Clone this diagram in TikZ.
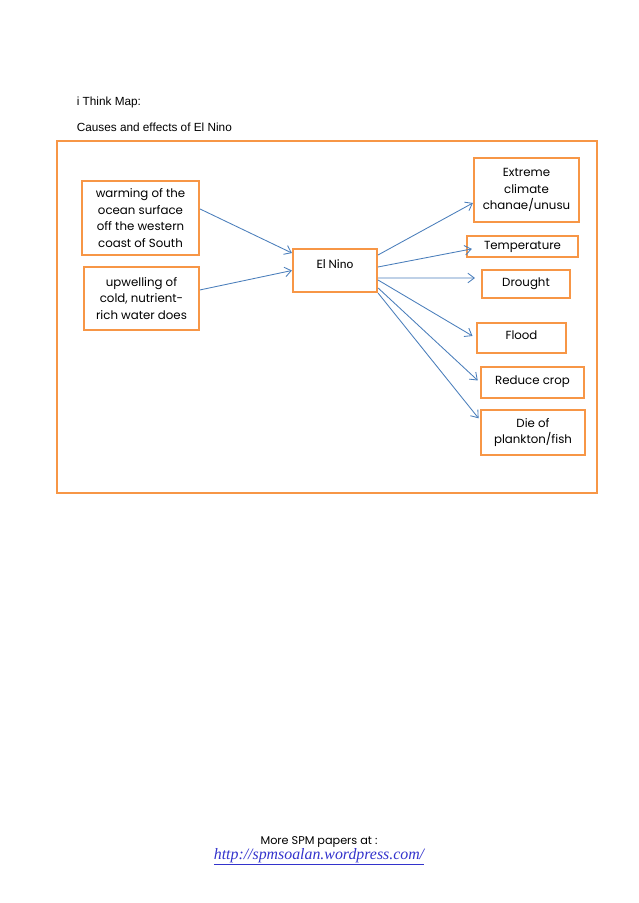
\documentclass[tikz,border=0pt]{standalone}
\usepackage{fontspec}
\setmainfont{Liberation Sans}
\newfontfamily\gothic{Poppins}
\newfontfamily\calib{Carlito}
\newfontfamily\corsiva{Liberation Serif}
\usetikzlibrary{arrows.meta}
\definecolor{boxorange}{HTML}{F79646}
\definecolor{linkblue}{HTML}{4A7EBB}
\definecolor{urlblue}{HTML}{3333CC}
\tikzset{
  mapbox/.style={draw=boxorange, line width=2pt, inner sep=0pt, align=center,
    font=\gothic\fontsize{11}{15.4}\selectfont},
  link/.style={draw=linkblue, line width=0.8pt, -{Straight Barb[length=6pt,width=9pt]}},
}
\begin{document}
\begin{tikzpicture}[x=0.9333pt,y=-0.9333pt]
  \useasboundingbox (0,0) rectangle (638,903);
  % heading
  \node[anchor=west, font=\fontsize{11}{13}\selectfont] (title) at (73,102) {i Think Map:};
  \node[anchor=west, font=\fontsize{11}{13}\selectfont] (subtitle) at (73,127) {Causes and effects of El Nino};
  % frame
  \draw[boxorange, line width=2pt] (57,141) rectangle (597,493);
  % causes
  \node[mapbox, minimum width=109.2pt, minimum height=69.1pt] (warm) at (140.5,218)
    {warming of the\\ocean surface\\off the western\\coast of South};
  \node[mapbox, minimum width=107.3pt, minimum height=58.8pt] (upwell) at (141.5,298.5)
    {upwelling of\\cold, nutrient-\\rich water does};
  % centre
  \node[mapbox, minimum width=78.4pt, minimum height=40.1pt, font=\calib\fontsize{12}{14}\selectfont,
    text height=8.6pt, text depth=11.6pt] (elnino) at (335,270.5) {El Nino};
  % effects
  \node[mapbox, minimum width=98pt, minimum height=59.7pt] (extreme) at (526.5,190)
    {Extreme\\climate\\chanae/unusu};
  \node[mapbox, minimum width=103.6pt, minimum height=19.6pt] (temp) at (522.5,246.5) {Temperature};
  \node[mapbox, minimum width=82.1pt, minimum height=26.1pt] (drought) at (526,284) {Drought};
  \node[mapbox, minimum width=83.1pt, minimum height=28pt, text depth=5.5pt] (flood) at (521.5,338) {Flood};
  \node[mapbox, minimum width=96.1pt, minimum height=28.9pt, text depth=5pt] (crop) at (532.5,382.5) {Reduce crop};
  \node[mapbox, minimum width=97.1pt, minimum height=42pt] (plankton) at (533,432.5)
    {Die of\\plankton/fish};
  % connectors
  \draw[link] ([yshift=8.4pt]warm.east) -- ([yshift=16.3pt]elnino.west);
  \draw[link] ([yshift=8pt]upwell.east) -- (elnino.west);
  \draw[link] ([yshift=14.5pt]elnino.east) -- ([yshift=-12.1pt]extreme.west);
  \draw[link, shorten >=-5.6pt] ([yshift=3.3pt]elnino.east) -- ([yshift=-3.3pt]temp.west);
  \draw[link, shorten >=5.6pt] ([yshift=-7pt]elnino.east) -- ([yshift=5.6pt]drought.west);
  \draw[link, shorten >=3.7pt] ([yshift=-8.9pt]elnino.east) -- (flood.west);
  \draw[link, shorten >=2.8pt] ([yshift=-16.3pt]elnino.east) -- (crop.west);
  \draw[link, shorten >=2pt] (elnino.south east) -- ([yshift=11.7pt]plankton.west);
  % footer
  \node[inner sep=0pt, font=\gothic\fontsize{10.5}{12}\selectfont] (more) at (319,842) {More SPM papers at :};
  \node[inner sep=0pt, font=\corsiva\itshape\fontsize{14.8}{17}\selectfont, text=urlblue] (link) at (319,857)
    {\underline{http://spmsoalan.wordpress.com/}};
\end{tikzpicture}
\end{document}
